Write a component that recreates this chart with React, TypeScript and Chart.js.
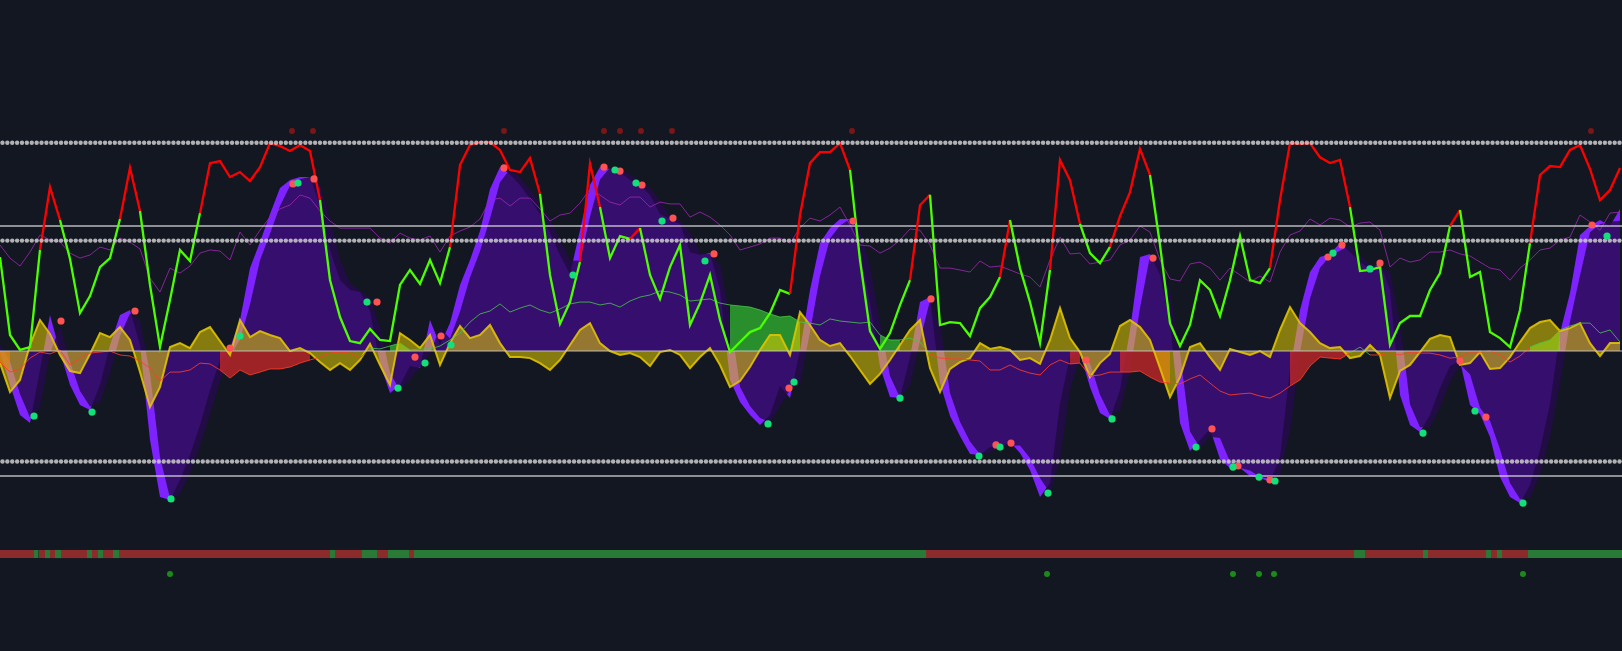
import React, { useEffect, useRef } from "react";
import { Chart, registerables } from "chart.js";
Chart.register(...registerables);

// One sample every 10px of the original chart; x is the sample index.
const X_MAX = 162.2;
const N_BARS = 332;

// WaveTrend fast line (bright purple area)
const wt1 = [
  -0.5, -16.3, -30.7, -34.6, -9.1, 17.3, -0.5, -16.3, -25.9, -28.3,
  -16.3, 2.9, 17.3, 19.7, 2.9, -42.7, -70.1, -71.5, -61.9, -49.9,
  -35.5, -18.7, -4.3, 1.4, 14.9, 39.8, 52.3, 65.8, 78.2, 82.1,
  83.5, 83.5, 70.1, 48.5, 34.1, 29.3, 28.3, 19.2, -6.2, -20.2,
  -16.3, -7.2, -8.2, 14.9, 2.9, 13.4, 31.7, 43.7, 57.6, 77.8,
  88.3, 84.9, 79.7, 73, 65.8, 56.6, 46.1, 37, 58, 79.7,
  88.3, 87.4, 85.9, 82.1, 79.7, 74.9, 65.8, 63.4, 61, 47.5,
  46.1, 47, 29.3, -13.9, -24.5, -30.7, -35.5, -30.7, -16.8, -22.6,
  0.5, 29.3, 51.8, 59, 63.4, 63.4, 48, 23, -7.7, -22.1,
  -22.6, -2.9, 23.5, 25.9, -15.4, -31.2, -40.8, -49.4, -49.9, -46.1,
  -46.1, -43.7, -49, -57.1, -70.1, -63.4, -25, -2.9, -1, -17.3,
  -29.8, -32.6, -18.7, 10.1, 45.1, 46.6, 36.5, 13.4, -34.6, -48,
  -42.7, -37.4, -51.8, -56.2, -56.2, -60, -61, -62.9, -50.9, -9.1,
  19.7, 37.9, 45.1, 46.6, 51.8, 47.5, 42.7, 39.4, 42.2, 29.3,
  -21.1, -35.5, -38.9, -30.7, -17.8, -7.2, -4.8, -25.9, -30.2, -41.3,
  -60.5, -70.1, -73, -64.3, -47.5, -25.4, 8.6, 27.8, 55.7, 60,
  62.9, 60, 68.2,
];

// WaveTrend slow line (dark purple area)
const wt2 = [
  3, -5.2, -20.6, -31.9, -26.9, -1.2, 12, -5.2, -19.2, -26.6,
  -24.7, -10.5, 7.2, 18, 14.7, -10.8, -50.9, -70.6, -68.6, -58.3,
  -45.6, -30.5, -14.4, -2.6, 5.5, 22.3, 43.6, 56.3, 69.6, 79.3,
  82.5, 83.5, 79.5, 63.7, 44.2, 32.7, 29, 25.6, 11.5, -10.4,
  -19, -13.6, -7.5, -1.2, 11.3, 6, 18.9, 35.3, 47.9, 63.6,
  81, 87.3, 83.3, 77.7, 70.8, 63.1, 53.4, 43.4, 43.3, 64.5,
  82.3, 88, 87, 84.7, 81.4, 78.3, 72.1, 65.1, 62.7, 57,
  47.1, 46.4, 41.7, 16.3, -17.1, -26.4, -32.2, -34.1, -26.5, -18.6,
  -15.7, 9.2, 36, 54, 60.3, 63.4, 58.8, 40.5, 13.8, -12,
  -22.3, -16.7, 5.1, 24.3, 13.5, -20.2, -34, -43.4, -49.6, -48.7,
  -46.1, -45.4, -45.3, -51.4, -61, -68.1, -51.9, -18.4, -2.3, -5.9,
  -21, -30.7, -28.4, -10.1, 20.6, 45.6, 43.6, 29.6, -1, -38.6,
  -46.4, -41.1, -41.7, -53.2, -56.2, -57.3, -60.3, -61.6, -59.3, -38.3,
  -0.5, 25.2, 40, 45.6, 48.1, 50.6, 46.1, 41.7, 40.3, 38.3,
  14.2, -25.5, -36.6, -36.4, -26.8, -14.7, -6.4, -11.2, -27.2, -33.5,
  -47.1, -63.4, -71, -70.4, -59.3, -40.9, -15.2, 14.3, 36.2, 57,
  60.9, 62, 62.5,
];

// Stoch line (red / lime)
const stochLine = [
  45.1, 7.7, 0.5, 1.9, 48.5, 78.7, 62.9, 44.2, 18.2, 26.4,
  40.3, 44.6, 63.4, 88, 67.2, 31.7, 1.9, 24.5, 48.5, 43.2,
  66.2, 90.2, 91.2, 83.5, 85.9, 81.6, 88.3, 99.8, 98.4, 96,
  98.9, 96, 72.5, 34.1, 16.3, 4.8, 3.8, 10.6, 5.3, 4.8,
  31.7, 38.9, 32.2, 43.7, 32.6, 49.9, 89.3, 98.9, 100.3, 100.3,
  96.5, 86.9, 85.9, 92.6, 75.4, 36.5, 13, 23.5, 42.7, 90,
  69.1, 44.6, 55.2, 53.8, 59, 36.5, 25, 40.3, 50.9, 12.5,
  23, 36.5, 14.9, -0.5, 4.3, 9.1, 11, 18.2, 29.3, 27.4,
  65.3, 90.2, 95.5, 95.5, 99.8, 86.9, 43.7, 9.6, 1, 8.6,
  22, 34, 70, 75, 12.5, 13.9, 13.4, 7.2, 20.6, 25.9,
  35.5, 62.9, 39.8, 23.5, 3.8, 38.9, 91.7, 82, 61, 47,
  42.2, 50, 64.8, 76.3, 97, 84.5, 50.9, 13.4, 2.4, 12.5,
  34, 29.3, 16.8, 34, 55.2, 34, 32.6, 39.8, 72.5, 99.8,
  99.4, 99.8, 93, 90.2, 91.7, 69.1, 38.4, 38.9, 40.3, 2.9,
  13.4, 16.8, 16.8, 29.3, 37.4, 60, 67.7, 35.5, 37.9, 9.1,
  6.2, 1.9, 19.7, 51.8, 84.5, 88.8, 88.3, 96.5, 98.9, 87.4,
  72.5, 77.3, 87.9,
];
// segments (by starting sample) drawn in red
const stochRedSegments = [
  [4, 5], [12, 13], [20, 31], [45, 53], [58, 59], [63, 63], [79, 84],
  [91, 92], [100, 100], [105, 107], [111, 114], [127, 134], [145, 145], [153, 161],
];

// RSI (thin purple)
const rsiLine = [
  50.9, 44.6, 40.8, 47.5, 55.7, 53.3, 52.3, 47, 44.6, 46.1,
  49.9, 48.5, 54.2, 52.3, 49, 35, 28.3, 39.8, 37.4, 40.8,
  47, 48.5, 48, 43.7, 57.1, 50.9, 58, 64.3, 68.2, 70.1,
  74.9, 73.4, 67.2, 62.4, 59, 59, 59, 59, 54.2, 51.8,
  56.6, 54.2, 53.3, 55.2, 47.5, 55.2, 57.6, 59.5, 63.4, 72.5,
  73.4, 69.6, 73.4, 73.4, 68.2, 62.4, 65.3, 66.2, 71, 77.8,
  74.9, 71.5, 70.1, 73.9, 73.9, 69.1, 71.5, 70.6, 70.6, 64.3,
  66.7, 64.3, 60.5, 55.7, 48.5, 49.9, 51.4, 54.2, 54.2, 51.8,
  59, 63.8, 62.4, 65.3, 69.1, 60.5, 50.9, 50.4, 47, 49.4,
  53.3, 58.6, 58, 50.9, 39.8, 39.8, 38.9, 37.9, 43.2, 40.3,
  40.8, 38.9, 37, 35.5, 30.7, 43.7, 54.7, 46.6, 47, 41.8,
  42.7, 43.7, 50.9, 53.3, 60, 57.1, 43.7, 34.6, 33.6, 41.8,
  42.7, 39.8, 34, 39.8, 36.5, 33.1, 36, 33.1, 47.5, 55.7,
  57.6, 63.4, 60.5, 63.8, 62.9, 59.5, 61.4, 61.9, 58, 40.3,
  44.6, 42.7, 43.7, 47.5, 47.5, 48.5, 46.6, 45.6, 42.7, 39.8,
  38.9, 34, 39.8, 43.7, 48.5, 49.4, 53.3, 54.7, 65.3, 61.9,
  58, 66.2, 66.7,
];

// Thin money-flow line (green above 0, red below)
const flowLine = [
  -5.3, -10.1, -8.6, -3.4, -0.5, -1.4, 0.5, -6.7, -3.4, -1,
  -0.5, 0, -1.9, -2.4, -4.8, -8.2, -14.4, -10.1, -10.1, -9.1,
  -5.8, -6.2, -9.1, -13, -9.1, -11.5, -10.1, -8.6, -8.6, -7.7,
  -5.8, -4.3, -2.9, -1, -0.5, -1, -3.4, 1.4, 1, 2.4,
  3.8, 0.5, 1, 1, 2.4, 5.3, 8.6, 13.9, 17.8, 19.2,
  22.6, 18.7, 20.6, 22.1, 19.7, 18.2, 20.2, 22.6, 23.5, 23.5,
  22.1, 23, 21.1, 24, 25.9, 26.9, 28.8, 28.3, 26.9, 24,
  24.5, 25, 23, 22.1, 21.6, 21.1, 19.7, 17.8, 16.3, 16.8,
  13.9, 13.4, 12.5, 15.4, 14.4, 13.9, 13.4, 13.9, 7.7, 5.3,
  5.3, 6.2, 4.3, -1.4, -3.4, -3.8, -3.8, -4.3, -4.8, -9.1,
  -9.1, -6.7, -9.1, -10.6, -11.5, -6.7, -4.3, -6.2, -5.8, -12,
  -11.5, -10.1, -10.1, -10.1, -9.6, -12.5, -14.9, -15.4, -15.8, -13.4,
  -11.5, -15.4, -19.2, -21.1, -20.6, -20.2, -21.6, -22.6, -20.2, -16.8,
  -13.9, -7.2, -2.9, -3.4, -3.8, -1, 1.9, -1.9, -1.9, -1,
  -1.9, -0.5, -1, -1, -1.9, -3.4, -2.9, -0.5, -0.5, 0,
  -1.9, -5.3, -2.4, 1.9, 3.8, 5.3, 10.1, 12, 13.4, 13.4,
  8.6, 10.1, 4.3,
];
const redFillRanges = [[0, 1], [22, 31], [107, 108], [112, 117], [129, 135]];
const greenFillRanges = [[39, 41], [73, 80], [88, 90], [153, 156]];

// Money flow area (yellow)
const mfArea = [
  -5.8, -19.7, -13.9, 2.9, 14.9, 8.2, -1.9, -9.6, -10.6, -1.4,
  8.6, 6.7, 11.5, 5.3, -10.1, -26.9, -17.3, 1.9, 3.8, 1.4,
  9.1, 11.5, 4.8, -1.9, 14.9, 6.7, 9.6, 7.7, 6.2, 0,
  1.4, -1, -5.3, -9.1, -5.8, -9.1, -4.3, 3.4, -6.7, -16.3,
  8.6, 5.3, 1.4, 7.7, -6.7, 3.8, 12, 6.2, 7.7, 12.5,
  3.8, -2.9, -2.9, -3.4, -5.8, -9.1, -4.3, 2.9, 10.1, 13.4,
  3.8, 0, -1.9, -1, -2.9, -7.2, -0.5, 0.5, -1.9, -8.2,
  -2.9, 1.4, -6.7, -17.3, -14.4, -7.7, 0.5, 7.7, 7.7, -1.9,
  18.7, 12.5, 5.3, 2.4, 3.8, -2.4, -9.1, -15.8, -11, -4.3,
  2.9, 10.1, 14.9, -8.2, -19.7, -8.6, -5.3, -3.4, 3.8, 1,
  1.9, 0.5, -4.3, -3.4, -6.2, 5.3, 20.6, 6.2, -0.5, -12.5,
  -5.8, -1.4, 12, 14.9, 11.5, 5.3, -8.2, -22.1, -12.5, 1.9,
  3.8, -2.9, -9.1, 1, -0.5, -1.9, 0, -2.9, 10.1, 21.1,
  13.4, 9.1, 3.8, 1.4, 1.9, -3.4, -2.4, 2.9, -1.9, -22.6,
  -9.6, -6.7, -0.5, 5.8, 7.7, 6.7, -6.7, -5.8, -0.5, -8.6,
  -8.2, -2.9, 4.3, 11, 13.9, 14.9, 9.6, 11, 13.4, 3.8,
  -2.4, 3.8, 3.8,
];

// Cross signals
const buyX = [3.4, 9.2, 17.1, 24, 29.8, 36.7, 39.8, 42.5, 45.1, 57.3, 61.5, 63.6, 66.2, 70.5, 76.8, 79.4,
  90, 97.9, 100, 104.8, 111.2, 119.6, 123.3, 125.9, 127.5, 133.3, 137, 142.3, 147.5, 152.3, 160.7];
const buyY = [-31.2, -29.3, -71, 7.2, 80.6, 23.5, -17.8, -5.8, 2.9, 36.5, 86.9, 80.6, 62.4, 43.2, -35, -14.9,
  -22.6, -50.4, -46.1, -68.2, -32.6, -46.1, -55.7, -60.5, -62.4, 47, 39.4, -39.4, -28.8, -73, 55.2];
const sellX = [6.1, 13.5, 23, 29.3, 31.4, 37.7, 41.5, 44.1, 50.4, 60.4, 62, 64.2, 67.3, 71.4, 78.9, 85.3,
  93.1, 99.6, 101.1, 108.6, 115.3, 121.2, 123.8, 127, 132.8, 134.2, 138, 146, 148.6, 159.2];
const sellY = [14.4, 19.2, 1.4, 80.2, 82.6, 23.5, -2.9, 7.2, 87.9, 88.3, 86.4, 79.7, 63.8, 46.6, -17.8, 62.4,
  25, -45.1, -44.2, -4.3, 44.6, -37.4, -55.2, -61.9, 45.1, 50.9, 42.2, -4.8, -31.7, 60.5];
const topSignalX = [29.2, 31.3, 50.4, 60.4, 62, 64.1, 67.2, 85.2, 159.1];
const bottomSignalX = [17, 104.7, 123.3, 125.9, 127.4, 152.3];
const TOP_SIGNAL = 105.6;
const BOTTOM_SIGNAL = -107;

// Higher-timeframe money-flow bar
const flowBarEdges = [0, 3.4, 3.87, 4.5, 5.0, 5.5, 6.1, 8.7, 9.2, 9.8, 10.3, 11.3, 11.9, 33.0, 33.5, 36.2,
  37.7, 38.8, 40.9, 41.4, 92.6, 135.4, 136.5, 142.3, 142.8, 148.6, 149.1, 149.7, 150.2, 152.8, 162.2];
const flowBarSigns = "rgrgrgrgrgrgrgrgrgrgrgrgrgrgrg";
const BAR_HIGH = -95.5;
const BAR_LOW = -99.4;

// Levels
const LEVEL_TOP = 100;
const LEVEL_OB = 60;
const LEVEL_OS = -60;
const LEVEL_OB2 = 53;
const LEVEL_OS2 = -53;

const BG = "#131722";

export default function App() {
  const ref = useRef<HTMLCanvasElement | null>(null);

  useEffect(() => {
    document.body.style.margin = "0";
    document.body.style.background = BG;
    const pts = (arr: number[]) => arr.map((y, k) => ({ x: k, y }));
    const redSeg = new Set<number>();
    stochRedSegments.forEach(([a, b]) => {
      for (let k = a; k <= b; k++) redSeg.add(k);
    });
    const hline = (y: number) => [{ x: 0, y }, { x: X_MAX, y }];
    const dotted = (y: number) =>
      Array.from({ length: N_BARS }, (_, j) => ({ x: ((j + 0.5) * X_MAX) / N_BARS, y }));

    const base = { pointRadius: 0, tension: 0, borderWidth: 0, showLine: true };
    const datasets: any[] = [];

    datasets.push({ ...base, data: pts(wt1), fill: "origin", backgroundColor: "#7e22ff", borderColor: "#7e22ff", order: 100 });
    datasets.push({ ...base, data: pts(wt2), fill: "origin", backgroundColor: "rgba(38,10,78,0.82)", borderColor: "rgba(0,0,0,0)", order: 95 });

    redFillRanges.forEach(([a, b]) => {
      const d = [];
      for (let k = a; k <= b; k++) d.push({ x: k, y: flowLine[k] });
      datasets.push({ ...base, data: d, fill: "origin", backgroundColor: "rgba(205,40,40,0.75)", borderColor: "rgba(0,0,0,0)", order: 90 });
    });
    greenFillRanges.forEach(([a, b]) => {
      const d = [];
      for (let k = a; k <= b; k++) d.push({ x: k, y: flowLine[k] });
      datasets.push({ ...base, data: d, fill: "origin", backgroundColor: "rgba(50,190,50,0.72)", borderColor: "rgba(0,0,0,0)", order: 90 });
    });

    datasets.push({ ...base, data: pts(mfArea), fill: "origin", backgroundColor: "rgba(230,205,0,0.55)", borderColor: "rgba(225,195,0,0.9)", borderWidth: 2, order: 85 });

    datasets.push({
      ...base, data: pts(flowLine), fill: false, borderWidth: 1, borderColor: "rgba(255,60,40,0.85)", order: 80,
      segment: {
        borderColor: (c: any) => ((c.p0.parsed.y + c.p1.parsed.y) / 2 < 0 ? "rgba(255,60,40,0.85)" : "rgba(70,200,70,0.8)"),
      },
    });

    datasets.push({ ...base, data: pts(rsiLine), fill: false, borderWidth: 1, borderColor: "rgba(150,40,172,0.85)", order: 75 });

    datasets.push({ ...base, data: hline(0), fill: false, borderWidth: 2, borderColor: "rgba(200,200,200,0.45)", order: 72 });
    datasets.push({ ...base, data: hline(LEVEL_OB), fill: false, borderWidth: 1.5, borderColor: "rgba(225,225,225,0.8)", order: 70 });
    datasets.push({ ...base, data: hline(LEVEL_OS), fill: false, borderWidth: 1.5, borderColor: "rgba(225,225,225,0.8)", order: 70 });

    datasets.push({
      ...base, data: pts(stochLine), fill: false, borderWidth: 2.3, borderColor: "#4cff00", order: 65,
      segment: { borderColor: (c: any) => (redSeg.has(c.p0DataIndex) ? "#ff0000" : "#4cff00") },
    });

    [LEVEL_TOP, LEVEL_OB2, LEVEL_OS2].forEach((lv) => {
      datasets.push({
        data: dotted(lv), showLine: false, pointRadius: 2.2, pointBorderWidth: 0,
        pointBackgroundColor: "rgba(205,205,205,0.85)", order: 60,
      });
    });

    for (let i = 0; i < flowBarEdges.length - 1; i++) {
      const col = flowBarSigns[i] === "g" ? "#287a36" : "#8b2b2b";
      datasets.push({
        ...base,
        data: [{ x: flowBarEdges[i], y: BAR_HIGH }, { x: flowBarEdges[i + 1], y: BAR_HIGH }],
        fill: { value: BAR_LOW }, backgroundColor: col, borderColor: "rgba(0,0,0,0)", order: 55,
      });
    }

    datasets.push({
      data: buyX.map((x, i) => ({ x, y: buyY[i] })), showLine: false, pointRadius: 3.6, pointBorderWidth: 0,
      pointBackgroundColor: "#14e07a", order: 10,
    });
    datasets.push({
      data: sellX.map((x, i) => ({ x, y: sellY[i] })), showLine: false, pointRadius: 3.6, pointBorderWidth: 0,
      pointBackgroundColor: "#ff5252", order: 10,
    });
    datasets.push({
      data: topSignalX.map((x) => ({ x, y: TOP_SIGNAL })), showLine: false, pointRadius: 3, pointBorderWidth: 0,
      pointBackgroundColor: "#7a1616", order: 10,
    });
    datasets.push({
      data: bottomSignalX.map((x) => ({ x, y: BOTTOM_SIGNAL })), showLine: false, pointRadius: 3, pointBorderWidth: 0,
      pointBackgroundColor: "#1c8a1a", order: 10,
    });

    const chart = new Chart(ref.current as HTMLCanvasElement, {
      type: "line",
      data: { datasets },
      options: {
        responsive: false,
        maintainAspectRatio: false,
        animation: false,
        devicePixelRatio: 1,
        layout: { padding: 0, autoPadding: false },
        plugins: { legend: { display: false }, tooltip: { enabled: false }, filler: { propagate: false } },
        scales: {
          x: { type: "linear", min: 0, max: X_MAX, display: false },
          y: { type: "linear", min: -144, max: 168.5, display: false },
        },
      } as any,
    });
    return () => chart.destroy();
  }, []);

  return (
    <div style={{ position: "fixed", left: 0, top: 0, width: 1622, height: 651, background: BG }}>
      <canvas ref={ref} width={1622} height={651} style={{ display: "block" }} />
    </div>
  );
}
